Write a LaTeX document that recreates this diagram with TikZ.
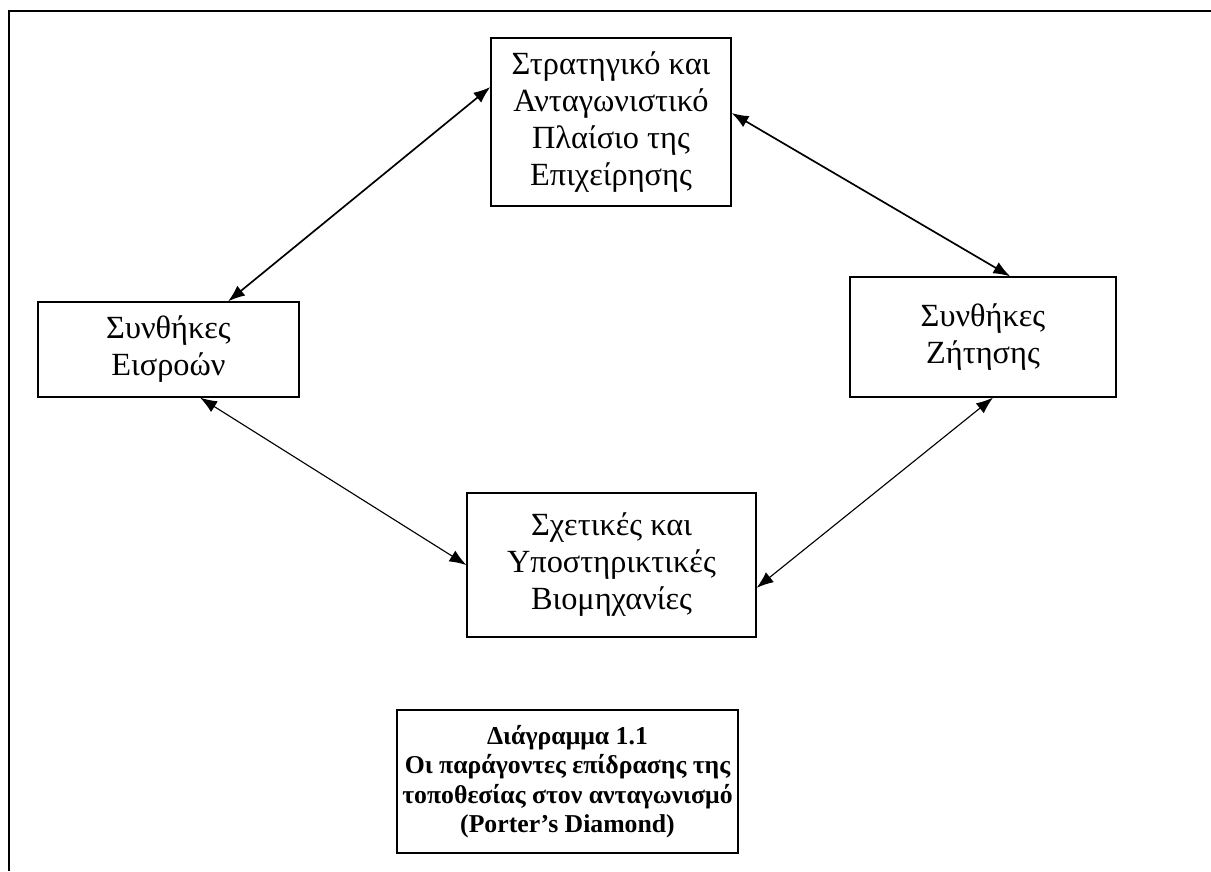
\documentclass[tikz,border=0pt]{standalone}
\usepackage{fontspec}
\setmainfont{Liberation Serif}
\usetikzlibrary{arrows.meta, positioning}

\begin{document}
\begin{tikzpicture}[
        x=0.025cm, y=-0.025cm,
        block/.style={rectangle, draw, line width=0.9pt, align=center, inner sep=2pt, font=\fontsize{23}{26.3}\selectfont},
        caption/.style={rectangle, draw, line width=1.2pt, align=center, inner sep=2pt, font=\bfseries\fontsize{18.3}{21}\selectfont},
        line/.style={draw, {Latex[length=12pt,width=9pt]}-{Latex[length=12pt,width=9pt]}, line width=0.8pt},
        thickline/.style={line, line width=1.2pt}
    ]
        \useasboundingbox (0,0) rectangle (1211,871);
        \draw [line width=1.4pt] (9,871) -- (9,11) -- (1211,11);

        \node [block, minimum width=6cm, minimum height=4.2cm] (strat) at (611,122) {Στρατηγικό και\\Ανταγωνιστικό\\Πλαίσιο της\\Επιχείρησης};
        \node [block, minimum width=6.525cm, minimum height=2.375cm] (input) at (168.5,349.5) {Συνθήκες\\Εισροών};
        \node [block, minimum width=6.65cm, minimum height=3cm] (demand) at (983,337) {Συνθήκες\\Ζήτησης};
        \node [block, minimum width=7.225cm, minimum height=3.6cm] (related) at (611.5,565) {Σχετικές και\\Υποστηρικτικές\\Βιομηχανίες};
        \node [caption, minimum width=8.525cm, minimum height=3.575cm] (cap) at (567.5,781.5) {Διάγραμμα 1.1\\Οι παράγοντες επίδρασης της\\τοποθεσίας στον ανταγωνισμό\\(Porter’s Diamond)};

        \path [thickline] ([yshift=0.875cm]strat.west) -- ([xshift=1.49cm]input.north);
        \path [thickline] ([yshift=0.225cm]strat.east) -- ([xshift=0.68cm]demand.north);
        \path [line] ([xshift=0.79cm]input.south) -- (related.west);
        \path [line] ([xshift=0.25cm]demand.south) -- ([yshift=-0.57cm]related.east);
    \end{tikzpicture}
\end{document}
